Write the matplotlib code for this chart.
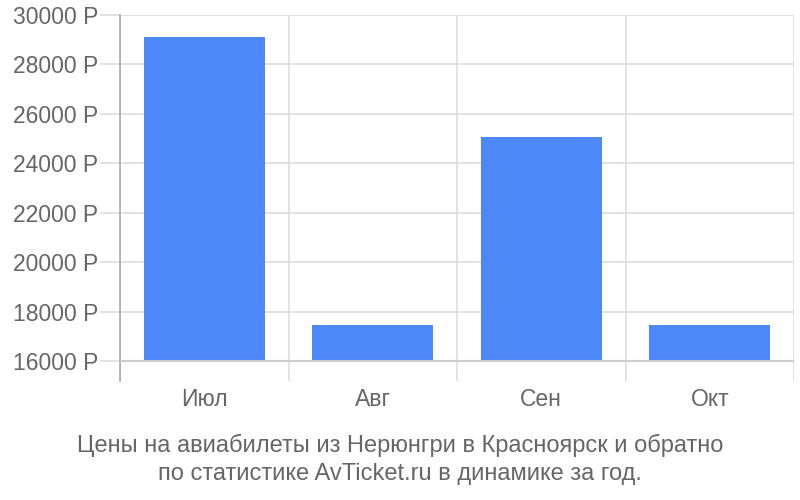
import matplotlib
matplotlib.use('Agg')
import matplotlib.pyplot as plt

plt.rcParams['font.family'] = ['Liberation Sans', 'DejaVu Sans']

# data
months = ['Июл', 'Авг', 'Сен', 'Окт']
prices = [29120, 17460, 25060, 17460]
yticks = [16000, 18000, 20000, 22000, 24000, 26000, 28000, 30000]
ytick_labels = [f'{v} Р' for v in yticks]
title_lines = ['Цены на авиабилеты из Нерюнгри в Красноярск и обратно',
               'по статистике AvTicket.ru в динамике за год.']

grid_col = '#dddddd'
text_col = '#666666'
bar_col = '#4d88f9'

fig = plt.figure(figsize=(8, 5), dpi=100)
ax = fig.add_axes([120/800, 1 - 381/500, (794 - 120)/800, (381 - 15)/500])

x = list(range(len(months)))
ax.bar(x, [p - 16000 for p in prices], bottom=16000, width=0.72,
       color=bar_col, zorder=3)

ax.set_xlim(-0.5, len(months) - 0.5)
ax.set_ylim(15190, 30000)

ax.set_yticks(yticks)
ax.set_yticklabels(ytick_labels)
ax.set_xticks(x)
ax.set_xticklabels(months)

# vertical separators between categories
ax.set_xticks([i - 0.5 for i in range(len(months) + 1)], minor=True)
ax.grid(True, which='minor', axis='x', color=grid_col, lw=1.2, zorder=0)
ax.grid(True, which='major', axis='y', color=grid_col, lw=1.2, zorder=0)

ax.tick_params(axis='y', length=14.4, width=1.2, color=grid_col,
               labelsize=16.5, labelcolor=text_col, pad=1)
ax.tick_params(axis='x', which='major', length=0, labelsize=16.5,
               labelcolor=text_col, pad=5)
ax.tick_params(axis='x', which='minor', length=0)

for side in ['top', 'right', 'bottom']:
    ax.spines[side].set_visible(False)
ax.spines['left'].set_color('#aaaaaa')
ax.spines['left'].set_linewidth(1.2)
ax.axhline(16000, color='#cccccc', lw=1.5, zorder=4)

fig.text(0.5, 1 - 445/500, title_lines[0], ha='center', va='center',
         color=text_col, fontsize=17)
fig.text(0.5, 1 - 474/500, title_lines[1], ha='center', va='center',
         color=text_col, fontsize=17)

fig.savefig('out.png', dpi=100)
